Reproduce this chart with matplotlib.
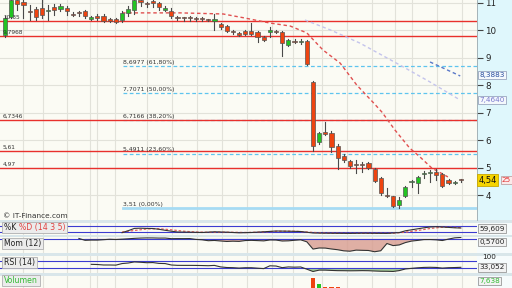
import numpy as np
import matplotlib
matplotlib.use('Agg')
import matplotlib.pyplot as plt
from matplotlib.patches import Rectangle
from matplotlib.transforms import IdentityTransform

# ---------------- data ----------------
opens  = [9.83,10.49,11.10,11.04,10.68,10.78,10.82,10.71,10.85,10.78,10.82,10.60,10.64,10.71,10.42,10.53,10.53,10.42,10.42,10.38,
          10.64,10.74,11.10,10.97,11.08,11.00,10.76,10.71,10.46,10.46,10.45,10.45,10.42,10.39,10.34,10.23,10.16,9.95,9.91,9.98,
          9.98,9.94,9.76,9.96,9.98,9.94,9.47,9.61,9.58,9.61,8.12,5.93,6.30,6.26,5.79,5.44,5.24,5.10,5.13,5.17,
          4.95,4.62,3.97,3.96,3.64,3.96,4.46,4.44,4.75,4.79,4.84,4.77,4.55,4.44,4.58]
highs  = [10.52,11.15,11.15,11.10,10.93,10.85,11.10,10.93,10.96,10.96,10.89,10.67,10.71,10.74,10.53,10.60,10.60,10.45,10.45,10.71,
          10.89,11.15,11.15,11.04,11.15,11.04,10.89,10.80,10.53,10.50,10.52,10.50,10.48,10.43,10.60,10.27,10.20,10.00,9.95,10.00,
          10.27,9.98,9.80,10.13,10.02,9.98,9.69,9.69,9.69,9.65,8.14,6.30,6.66,6.33,5.85,5.50,5.28,5.28,5.20,5.22,
          4.98,4.64,4.26,3.98,3.93,4.33,4.55,4.70,4.88,4.91,4.95,4.80,4.58,4.51,4.60]
lows   = [9.76,10.45,10.74,10.45,10.38,10.38,10.45,10.38,10.56,10.71,10.56,10.52,10.53,10.45,10.38,10.38,10.31,10.31,10.27,10.31,
          10.53,10.60,10.89,10.85,10.85,10.75,10.71,10.45,10.38,10.35,10.36,10.36,10.35,10.33,10.02,10.05,9.94,9.88,9.80,9.83,
          9.83,9.58,9.61,9.76,9.90,9.07,9.43,9.54,9.50,8.74,5.60,5.85,6.18,5.57,4.95,5.20,5.00,4.80,4.84,4.95,
          4.48,4.00,3.93,3.56,3.51,3.93,4.29,4.07,4.62,4.47,4.55,4.30,4.40,4.40,4.47]
closes = [10.45,11.10,10.96,10.93,10.66,10.49,10.56,10.75,10.74,10.89,10.71,10.57,10.62,10.53,10.49,10.45,10.34,10.34,10.31,10.64,
          10.78,11.10,11.04,10.96,11.00,10.85,10.82,10.53,10.45,10.44,10.44,10.43,10.41,10.38,10.42,10.13,9.98,9.94,9.83,9.87,
          9.87,9.76,9.65,10.00,9.95,9.54,9.65,9.58,9.61,8.78,5.79,6.26,6.22,5.75,5.35,5.26,5.06,5.08,5.11,4.98,
          4.51,4.07,3.96,3.60,3.82,4.29,4.48,4.66,4.78,4.82,4.73,4.33,4.44,4.48,4.54]
volumes = [2,3,2,2,1.5,2,2,1.5,1.5,1.5,2,1.5,1.5,1.5,1.5,1.5,1.5,1.5,1.5,2,2,2.5,2,1.5,2,1.5,1.5,1.5,1.5,1.5,
           1.5,1.5,1.5,1.5,2,2,2,1.5,1.5,1.5,2,2,2,1.5,1.5,3,2,1.5,1.5,6,180,72,20,25,22,8,6,5,4,5,
           6,7,5,6,5,6,4,5,4,3,4,5,3,3,7.638]

# stochastic %K / %D (index, value)
stoch_k_idx = [19,20,21,22,23,24,25,26,27,28,30,32,34,36,38,40,42,44,46,48,50,52,54,56,58,60,62,63,64,65,66,67,68,69,70,71,72,73,74]
stoch_k_val = [13,33,56,58,56,55,47,37,28,20,18,15,22,18,12,15,22,30,28,25,10,8,7,6,8,7,6,10,14,32,42,52,62,70,73,70,66,62,60]
stoch_d_idx = [19,21,23,25,27,29,31,33,35,37,39,41,43,45,47,49,51,53,55,57,59,61,63,65,67,69,71,73,74]
stoch_d_val = [20,35,50,53,42,28,20,17,18,17,15,18,24,28,28,20,12,8,7,7,7,7,8,18,35,55,68,66,64]

# moving averages (index, price)
ma_red_idx = [19,23.5,28.4,35.4,39.0,43.0,46.3,49.0,51.6,54.4,57.1,59.7,61.2,63.3,65.7,67.4,69.3,71.9]
ma_red_val = [10.64,10.64,10.64,10.60,10.45,10.27,10.16,9.91,9.29,8.81,8.01,7.39,7.02,6.37,5.71,5.38,4.98,4.66]
ma_lav_idx = [48.7,52.8,57.6,64.1,69.0,73.9]
ma_lav_val = [10.38,10.02,9.54,8.74,8.12,7.46]
trend_idx = [69.0,73.9]
trend_val = [8.85,8.34]

# horizontal levels
red_levels = [10.35, 9.7968, 6.7346, 5.61, 4.97]
red_labels = ['10,35', '9,7968', '6,7346', '5,61', '4,97']
fib_levels = [8.6977, 7.7071, 6.7166, 5.4911]
fib_labels = ['8,6977 (61,80%)', '7,7071 (50,00%)', '6,7166 (38,20%)', '5,4911 (23,60%)']
fib_zero = 3.51
fib_zero_label = '3,51 (0,00%)'
price_ticks = [4, 5, 6, 7, 8, 9, 10, 11]

# ---------------- layout helpers ----------------
W, H = 512, 288
fig = plt.figure(figsize=(W/100, H/100), dpi=100, facecolor='#d9e6ea')

def ax_px(x0, y0, x1, y1, **kw):
    return fig.add_axes([x0/W, 1-y1/H, (x1-x0)/W, (y1-y0)/H], **kw)

n = len(closes)
idx = np.arange(n)
X0 = -5/6.16
X1 = (477-5)/6.16
def px2idx(p):
    return (p-5)/6.16

grid_px = [23, 43, 67, 90, 97, 115, 147, 172, 197, 222, 247, 272, 293, 322, 347, 372, 395, 412, 437, 462]
grid_idx = [px2idx(p) for p in grid_px]
BG = '#fbfbf4'
GRID = '#e2e2da'

# right strip
strip = ax_px(477, 0, 512, 220)
strip.set_facecolor('#dff7fc')
strip.set_xticks([]); strip.set_yticks([])
for s in strip.spines.values():
    s.set_visible(False)
for (a, b) in [(223, 235), (237, 253), (256, 273), (276, 288)]:
    sa = ax_px(477, a, 512, b)
    sa.set_facecolor('#f6fbfc')
    sa.set_xticks([]); sa.set_yticks([])
    for s in sa.spines.values():
        s.set_visible(False)

# ---------------- main price panel ----------------
ax = ax_px(0, 0, 477, 220)
ax.set_facecolor(BG)
ylo, yhi = 11 - 217/27.43, 11 + 3/27.43
ax.set_xlim(X0, X1)
ax.set_ylim(ylo, yhi)
for g in grid_idx:
    ax.axvline(g, color=GRID, lw=0.8, zorder=0)
for t in price_ticks:
    ax.axhline(t, color=GRID, lw=0.8, zorder=0)

# fib lines
fx = px2idx(123)
for lv, lb in zip(fib_levels, fib_labels):
    ax.plot([fx, X1], [lv, lv], color='#5ec4ee', lw=0.9, ls=(0, (3, 2)), zorder=1)
    ax.text(fx, lv + 0.06, lb, fontsize=4.4, color='#333333', va='bottom', ha='left')
ax.plot([fx, X1], [fib_zero, fib_zero], color='#a6dbf3', lw=2.0, zorder=1)
ax.text(fx, fib_zero + 0.06, fib_zero_label, fontsize=4.4, color='#333333', va='bottom', ha='left')

# red levels
for lv, lb in zip(red_levels, red_labels):
    ax.axhline(lv, color='#e8302c', lw=1.0, zorder=1)
    ax.text(px2idx(3), lv + 0.05, lb, fontsize=4.2, color='#333333', va='bottom', ha='left', zorder=6)

# moving averages
ax.plot(ma_red_idx, ma_red_val, color='#e05050', lw=1.0, ls=(0, (2.5, 2)), zorder=2)
ax.plot(ma_lav_idx, ma_lav_val, color='#c4c4ec', lw=1.0, ls=(0, (2.5, 2)), zorder=2)
ax.plot(trend_idx, trend_val, color='#5a78c8', lw=1.0, ls=(0, (2.5, 2)), zorder=2)

# candles
for i in range(n):
    o, h, l, c = opens[i], highs[i], lows[i], closes[i]
    ax.plot([i, i], [l, h], color='#4a4a4a', lw=0.8, zorder=3)
    up = c >= o
    bot = min(o, c)
    ht = max(abs(c - o), 0.035)
    ax.add_patch(Rectangle((i - 0.34, bot), 0.68, ht,
                           facecolor='#22c322' if up else '#ee4410',
                           edgecolor='#555555', lw=0.5, zorder=4))

ax.text(px2idx(3), 11 - (216-3)/27.43, '\u00a9 IT-Finance.com', fontsize=5.3, color='#333333', va='center', ha='left')

ax.set_xticks([])
ax.yaxis.tick_right()
ax.set_yticks(price_ticks)
ax.set_yticklabels([str(t) for t in price_ticks])
ax.tick_params(axis='y', length=4, width=0.8, color='#444444', labelsize=6.3, pad=2, labelcolor='#222222')
for k_, s in ax.spines.items():
    s.set_visible(False)
ax.spines['right'].set_visible(True)
ax.spines['right'].set_color('#9aa8ac')
ax.spines['right'].set_linewidth(0.6)

# right-side value boxes
def rbox(axh, y, txt, color='#2a4fa0', fc='#f4f8fc', ec='#9aa6c0', fs=5.2):
    axh.text(1.005, y, txt, transform=axh.get_yaxis_transform(), fontsize=fs, color=color,
             va='center', ha='left', clip_on=False,
             bbox=dict(boxstyle='square,pad=0.15', fc=fc, ec=ec, lw=0.6), zorder=10)

rbox(ax, 8.3883, '8,3883')
rbox(ax, 7.464, '7,4640', color='#7a7ad0')
ax.text(1.052, closes[-1], '25', transform=ax.get_yaxis_transform(), fontsize=5.2, color='#e03030',
        va='center', ha='left', clip_on=False,
        bbox=dict(boxstyle='square,pad=0.15', fc='#fbeaea', ec='#c0a0a0', lw=0.6), zorder=9)
ax.text(1.003, closes[-1], '4,54', transform=ax.get_yaxis_transform(), fontsize=6.0, color='#111111',
        va='center', ha='left', clip_on=False,
        bbox=dict(boxstyle='square,pad=0.15', fc='#f5d400', ec='#c8a800', lw=0.6), zorder=11)

# ---------------- indicators ----------------
C = np.array(closes)
mom = np.full(n, np.nan)
mom[12:] = C[12:] - C[:-12]
rsi = np.full(n, np.nan)
dl = np.diff(C)
g = np.where(dl > 0, dl, 0); lo = np.where(dl < 0, -dl, 0)
ag, al = g[:14].mean(), lo[:14].mean()
rsi[14] = 100 - 100/(1 + ag/max(al, 1e-9))
for i in range(15, n):
    ag = (ag*13 + g[i-1])/14; al = (al*13 + lo[i-1])/14
    rsi[i] = 100 - 100/(1 + ag/max(al, 1e-9))

def setup_sub(a):
    a.set_facecolor(BG)
    a.set_xlim(X0, X1)
    a.set_xticks([]); a.set_yticks([])
    for s in a.spines.values():
        s.set_visible(False)
    for gx in grid_idx:
        a.axvline(gx, color=GRID, lw=0.8, zorder=0)

labels_todo = []
def label(a, parts):
    texts = []
    t = None
    for txt, col in parts:
        if t is None:
            t = a.text(0.008, 0.6, txt, transform=a.transAxes, fontsize=5.6, color=col,
                       va='center', ha='left', zorder=9)
        else:
            t = a.annotate(txt, xycoords=t, xy=(1, 0), va='bottom', ha='left',
                           fontsize=5.6, color=col, zorder=9)
        texts.append(t)
    labels_todo.append((a, texts))

a1 = ax_px(0, 223, 477, 235)
setup_sub(a1)
a1.set_ylim(-10, 110)
a1.axhline(80, color='#3b3bd0', lw=0.8); a1.axhline(20, color='#3b3bd0', lw=0.8)
a1.plot(stoch_d_idx, stoch_d_val, color='#e06060', lw=0.9, ls=(0, (2, 1.5)))
a1.plot(stoch_k_idx, stoch_k_val, color='#333333', lw=0.8)
label(a1, [('%K ', '#222222'), ('%D (14 3 5)', '#e04040')])
rbox(a1, 55, '59,609', color='#222222', fc='#f2f2f2', ec='#999999')

a2 = ax_px(0, 237, 477, 253)
setup_sub(a2)
a2.set_ylim(-5.6, 0.75)
a2.axhline(0, color='#3b3bd0', lw=0.8)
a2.fill_between(idx[12:], mom[12:], 0, where=mom[12:] < 0, color='#d89c90', alpha=0.8, lw=0)
a2.plot(idx[12:], mom[12:], color='#333333', lw=0.8)
label(a2, [('Mom (12)', '#222222')])
rbox(a2, -1.2, '0,5700', color='#222222', fc='#f2f2f2', ec='#999999')

a3 = ax_px(0, 256, 477, 273)
setup_sub(a3)
a3.set_ylim(1.4, 98.6)
a3.axhline(70, color='#3b3bd0', lw=0.8); a3.axhline(30, color='#3b3bd0', lw=0.8)
a3.fill_between(idx[14:], rsi[14:], 30, where=rsi[14:] < 30, color='#9ccc90', alpha=0.9, lw=0)
a3.plot(idx[14:], rsi[14:], color='#333333', lw=0.8)
label(a3, [('RSI (14)', '#222222')])
a3.text(1.01, 92, '100', transform=a3.get_yaxis_transform(), fontsize=5.2, color='#222222', va='center', ha='left', clip_on=False)
rbox(a3, 33, '33,052', color='#222222', fc='#f2f2f2', ec='#999999')

a4 = ax_px(0, 276, 477, 288)
setup_sub(a4)
a4.set_ylim(0, 216)
cols = ['#22c322' if closes[i] >= opens[i] else '#ee4410' for i in range(n)]
a4.bar(idx, volumes, width=0.68, color=cols, edgecolor='none')
label(a4, [('Volumen', '#33bb33')])
rbox(a4, 120, '7,638', color='#33bb33', fc='#f2f2f2', ec='#999999')

# boxes behind the panel labels (inside each axes, under the texts)
fig.canvas.draw()
r = fig.canvas.get_renderer()
for a, texts in labels_todo:
    exts = [t.get_window_extent(r) for t in texts]
    x0 = min(e.x0 for e in exts) - 2; x1 = max(e.x1 for e in exts) + 2
    y0 = min(e.y0 for e in exts) - 1; y1 = max(e.y1 for e in exts) + 1
    a.add_patch(Rectangle((x0, y0), x1 - x0, y1 - y0, transform=IdentityTransform(),
                          facecolor='#ececec', edgecolor='#b0b0b0', lw=0.6, zorder=8, clip_on=False))

fig.savefig('out.png', dpi=100, facecolor=fig.get_facecolor())
